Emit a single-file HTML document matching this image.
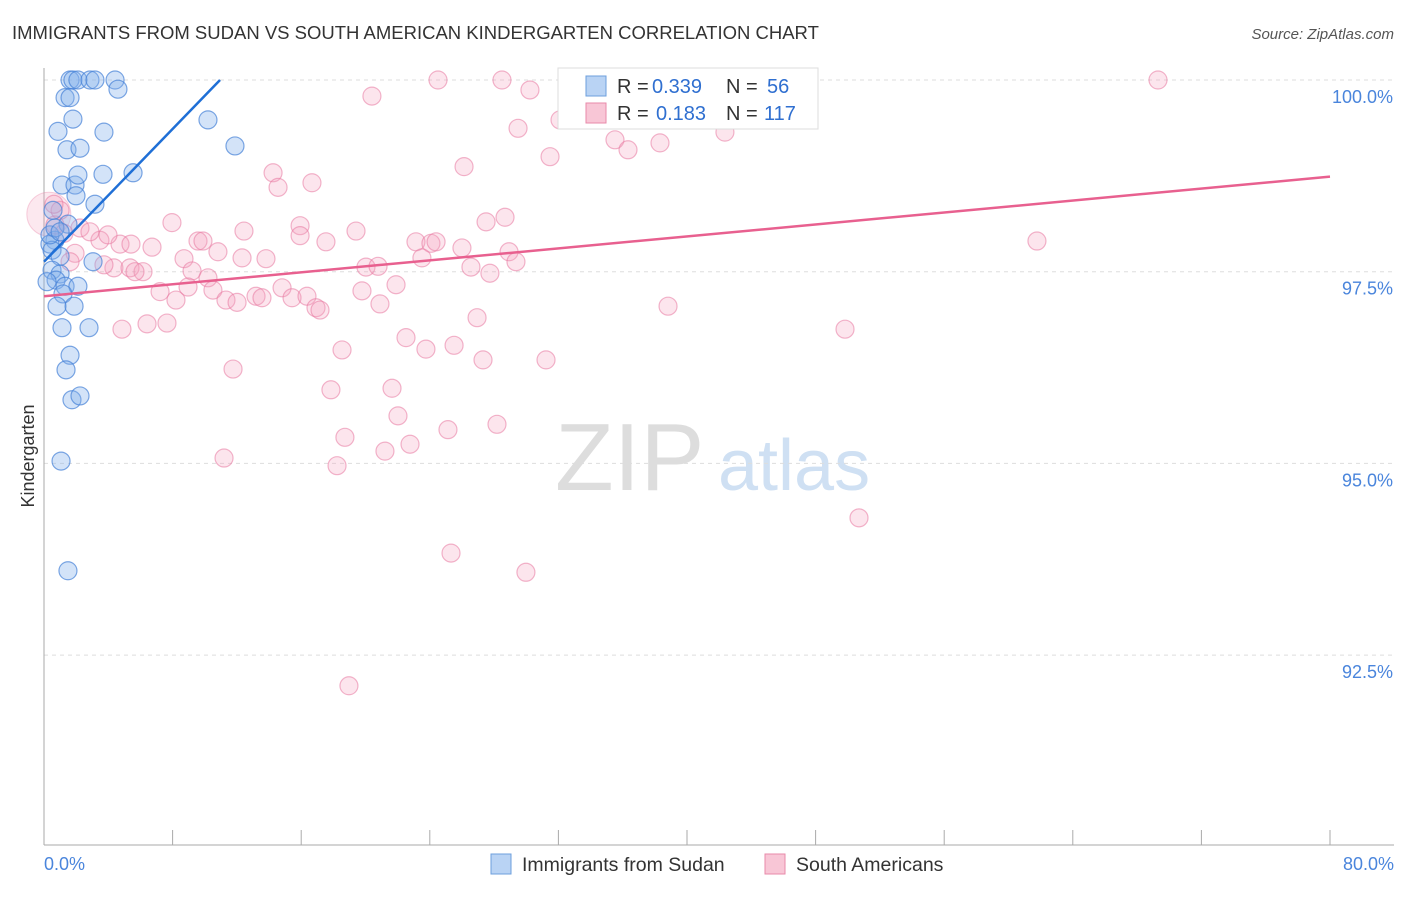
<!DOCTYPE html>
<html><head><meta charset="utf-8"><style>
body{margin:0;background:#fff;font-family:"Liberation Sans",sans-serif}
svg text{font-family:"Liberation Sans",sans-serif}
</style></head><body>
<svg id="c" width="1406" height="892">
<text x="12" y="39" font-size="18.5" fill="#333">IMMIGRANTS FROM SUDAN VS SOUTH AMERICAN KINDERGARTEN CORRELATION CHART</text>
<text x="1394" y="39" font-size="15" fill="#555" font-style="italic" text-anchor="end">Source: ZipAtlas.com</text>
<text x="34" y="456" font-size="18" fill="#333" transform="rotate(-90 34 456)" text-anchor="middle">Kindergarten</text>
<g><text x="555" y="490" font-size="96" fill="#ddd" font-family="Liberation Serif">ZIP</text><text x="718" y="490" font-size="72" fill="#cfe0f3">atlas</text></g>
<g id="grid"></g><g id="pts"></g><g id="trend"></g>
<g>
<rect x="558" y="68" width="260" height="61" fill="#fff" stroke="#ddd"/>
<rect x="586" y="76" width="20" height="20" fill="#b9d3f4" stroke="#6d9fdd"/>
<rect x="586" y="103" width="20" height="20" fill="#f8c6d6" stroke="#e88aaa"/>
<text x="617" y="93" font-size="20" fill="#333">R =</text><text x="652" y="93" font-size="20" fill="#2f6fd0">0.339</text>
<text x="726" y="93" font-size="20" fill="#333">N =</text><text x="767" y="93" font-size="20" fill="#2f6fd0">56</text>
<text x="617" y="120" font-size="20" fill="#333">R =</text><text x="656" y="120" font-size="20" fill="#2f6fd0">0.183</text>
<text x="726" y="120" font-size="20" fill="#333">N =</text><text x="764" y="120" font-size="20" fill="#2f6fd0">117</text>
</g>
<g>
<rect x="491" y="854" width="20" height="20" fill="#b9d3f4" stroke="#6d9fdd"/>
<text x="522" y="871" font-size="19.5" fill="#333">Immigrants from Sudan</text>
<rect x="765" y="854" width="20" height="20" fill="#f8c6d6" stroke="#e88aaa"/>
<text x="796" y="871" font-size="19.5" fill="#333">South Americans</text>
</g>
</svg>
<script>
const yTicks=[100,97.5,95,92.5];
const yTickLabels=["100.0%","97.5%","95.0%","92.5%"];
const xTickLabels=["0.0%","80.0%"];
const sudanX=[1.62,1.80,2.11,2.86,3.17,4.42,4.60,1.31,1.62,1.80,0.87,3.73,1.43,2.24,11.88,10.2,1.12,1.93,2.11,3.67,5.54,1.99,3.17,0.56,1.49,0.68,0.37,0.50,1.0,3.05,0.50,1.0,0.75,0.19,1.31,2.11,1.18,0.81,1.87,1.12,2.80,1.62,1.37,1.74,2.24,1.06,1.49,0.37,0.68,1.0];
const sudanY=[100,100,100,100,100,100,99.88,99.77,99.77,99.49,99.33,99.32,99.09,99.11,99.14,99.48,98.63,98.63,98.76,98.77,98.79,98.49,98.38,98.30,98.12,97.91,97.86,97.78,97.70,97.63,97.52,97.47,97.39,97.37,97.31,97.31,97.21,97.05,97.05,96.77,96.77,96.41,96.22,95.83,95.88,95.03,93.60,97.98,98.07,98.02];
const saX=[69.30,24.51,28.49,32.60,39.56,30.23,20.40,32.10,29.49,41.12,38.82,35.52,36.33,38.32,42.36,31.48,26.13,14.25,14.56,16.67,7.96,12.44,15.93,15.93,19.41,17.54,6.72,9.58,9.89,10.82,12.32,13.81,8.71,23.14,24.07,24.39,26.00,27.50,28.68,28.93,29.36,23.51,20.03,20.78,26.56,27.74,21.90,19.78,20.90,4.35,5.35,6.16,5.66,9.21,10.20,10.51,7.22,8.21,8.96,11.32,12.01,13.19,13.56,14.81,15.43,16.36,16.92,17.17,4.85,6.41,7.65,22.52,23.76,25.51,26.94,27.31,31.23,18.54,38.82,49.83,61.77,11.76,17.85,21.65,22.02,18.72,21.21,22.77,25.13,28.18,11.20,18.23,50.70,25.32,29.98,18.97,4.73,5.41,3.48,2.24,1.00,0.68,1.24,2.86,3.98,1.93,3.73,1.62,0.62];
const saY=[100,100,100,100,100,99.87,99.79,99.48,99.37,99.87,99.58,99.22,99.09,99.18,99.32,99.00,98.87,98.79,98.60,98.66,98.14,98.03,98.10,97.97,98.03,97.89,97.82,97.90,97.90,97.76,97.68,97.67,97.67,97.89,97.87,97.89,97.81,98.15,98.21,97.76,97.63,97.68,97.56,97.57,97.56,97.48,97.33,97.25,97.08,97.55,97.55,97.50,97.50,97.51,97.42,97.26,97.24,97.13,97.30,97.13,97.10,97.18,97.16,97.29,97.16,97.18,97.03,97.00,96.75,96.82,96.83,96.64,96.49,96.54,96.90,96.35,96.35,96.48,97.05,96.75,97.90,96.23,95.96,95.98,95.62,95.34,95.16,95.25,95.44,95.51,95.07,94.97,94.29,93.83,93.58,92.10,97.86,97.86,97.91,98.07,98.30,98.11,98.00,98.02,97.98,97.74,97.59,97.63,98.38];
const sudanTrend=[[0,97.63],[10.95,100]];
const saTrend=[[0,97.18],[80,98.74]];
const X=v=>44+v/80*1286, Y=v=>80+(100-v)/2.5*191.7;
const NS="http://www.w3.org/2000/svg";
function mk(p,t,a){const e=document.createElementNS(NS,t);for(const k in a)e.setAttribute(k,a[k]);p.appendChild(e);return e;}
const g=document.getElementById('grid');
yTicks.forEach((t,i)=>{
 const l=mk(g,'line',{x1:44,x2:1394,y1:Y(t),y2:Y(t),stroke:'#ddd','stroke-dasharray':'4 4'});
 
 
 const tx=mk(g,'text',{x:1393,y:Y(t)+23,'font-size':18,fill:'#4a85dc','text-anchor':'end'});
 tx.textContent=yTickLabels[i];
 
 
});
mk(g,'line',{x1:44,x2:44,y1:68,y2:845,stroke:'#aaa'});
mk(g,'line',{x1:44,x2:1394,y1:845,y2:845,stroke:'#aaa'});
for(let i=0;i<=10;i++){const x=X(i*8);const t=mk(g,'line',{x1:x,x2:x,y1:830,y2:845,stroke:'#aaa'});
 
 }
[[0,'start',44],[80,'end',1394]].forEach((d,i)=>{const t=mk(g,'text',{x:d[2],y:870,'font-size':18,fill:'#4a85dc','text-anchor':d[1]});t.textContent=xTickLabels[i];
 
 });
const p=document.getElementById('pts');
const big=mk(p,'circle',{cx:X(0.3),cy:Y(98.25),r:22,fill:'rgba(240,150,180,0.22)',stroke:'rgba(232,127,163,0.35)'});


saX.forEach((v,i)=>{const c=mk(p,'circle',{cx:X(v),cy:Y(saY[i]),r:9,fill:'rgba(244,160,190,0.28)',stroke:'rgba(232,120,160,0.55)','stroke-width':1.2});
 
 });
sudanX.forEach((v,i)=>{const c=mk(p,'circle',{cx:X(v),cy:Y(sudanY[i]),r:9,fill:'rgba(130,175,235,0.35)',stroke:'rgba(70,130,215,0.7)','stroke-width':1.2});
 
 });
const tr=document.getElementById('trend');
const l1=mk(tr,'line',{x1:X(sudanTrend[0][0]),y1:Y(sudanTrend[0][1]),x2:X(sudanTrend[1][0]),y2:Y(sudanTrend[1][1]),stroke:'#1f6fd6','stroke-width':2.5});


const l2=mk(tr,'line',{x1:X(saTrend[0][0]),y1:Y(saTrend[0][1]),x2:X(saTrend[1][0]),y2:Y(saTrend[1][1]),stroke:'#e8608f','stroke-width':2.5});


</script>
</body></html>
